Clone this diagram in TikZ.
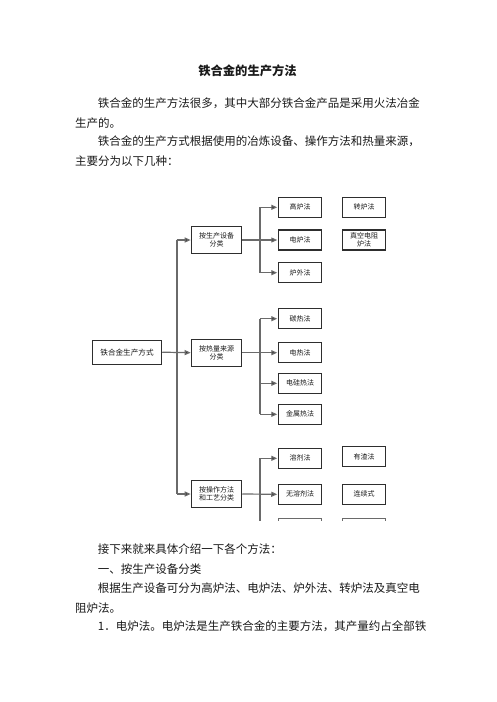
\documentclass[tikz,border=0pt]{standalone}
\usepackage{fontspec}
\newfontfamily\cjk{Noto Sans CJK SC}
\usetikzlibrary{arrows.meta}
\definecolor{txt}{HTML}{1A1A1A}
\definecolor{boxline}{HTML}{2E2E2E}
\definecolor{conn}{HTML}{6A6A6A}
\tikzset{
  body/.style={anchor=west, inner sep=0pt, text=txt, font=\cjk\fontsize{11.5}{13}\selectfont},
  ttl/.style={inner sep=0pt, text=txt, font=\cjk\bfseries\fontsize{12.3}{14}\selectfont},
  box/.style={draw=boxline, line width=1.1pt, fill=white, inner sep=0pt, align=center,
    text=txt, font=\cjk\fontsize{7}{8.6}\selectfont},
  leaf/.style={box, minimum width=43.4pt, minimum height=20pt},
  midbox/.style={box, minimum width=50pt, minimum height=26.7pt},
  rootbox/.style={box, minimum width=69.4pt, minimum height=23.7pt, font=\cjk\fontsize{7.6}{9}\selectfont},
  trunkline/.style={draw=conn, line width=1.6pt},
  arr/.style={draw=conn, line width=1.2pt, -{Triangle[length=6pt,width=5pt,fill=boxline]}, shorten >=0.5pt},
}
\begin{document}
\begin{tikzpicture}[x=1pt,y=-1pt]
\useasboundingbox[fill=white] (0,0) rectangle (496,702);
% text
\node[ttl] (title) at (247.5,71) {铁合金的生产方法};
\node[body] (p1) at (97.7,103.3) {铁合金的生产方法很多，其中大部分铁合金产品是采用火法冶金};
\node[body] (p2) at (75,122.7) {生产的。};
\node[body] (p3) at (97.7,141.7) {铁合金的生产方式根据使用的冶炼设备、操作方法和热量来源，};
\node[body] (p4) at (75,161) {主要分为以下几种：};
\node[body] (q1) at (97.7,549.3) {接下来就来具体介绍一下各个方法：};
\node[body] (q2) at (97.7,569.3) {一、按生产设备分类};
\node[body] (q3) at (97.7,588.3) {根据生产设备可分为高炉法、电炉法、炉外法、转炉法及真空电};
\node[body] (q4) at (75,607.7) {阻炉法。};
\node[body] (q5) at (97.7,626.7) {1．电炉法。电炉法是生产铁合金的主要方法，其产量约占全部铁};
% diagram
\begin{scope}
\clip (80,185) rectangle (400,520);
\node[rootbox] (root) at (127,352.2) {铁合金生产方式};
\node[midbox] (m1) at (216.7,240) {按生产设备\\分类};
\node[midbox] (m2) at (216.7,352.7) {按热量来源\\分类};
\node[midbox] (m3) at (216.7,494) {按操作方法\\和工艺分类};
% group 1
\node[leaf] (a1) at (300,207.3) {高炉法};
\node[leaf] (a2) at (300,240) {电炉法};
\node[leaf] (a3) at (300,272.7) {炉外法};
\node[leaf] (a4) at (364,207.3) {转炉法};
\node[leaf, font=\cjk\fontsize{7}{7.6}\selectfont] (a5) at (364,240) {真空电阻\\炉法};
% group 2
\node[leaf] (b1) at (300,318.7) {碳热法};
\node[leaf] (b2) at (300,352.7) {电热法};
\node[leaf] (b3) at (300,383.3) {电硅热法};
\node[leaf] (b4) at (300,414.3) {金属热法};
% group 3
\node[leaf] (c1) at (300,458.3) {溶剂法};
\node[leaf] (c2) at (300,494.3) {无溶剂法};
\node[leaf] (c4) at (364,456.7) {有渣法};
\node[leaf] (c5) at (364,494.3) {连续式};
\node[leaf, draw=conn] (c3) at (300,528.8) {};
\node[leaf, draw=conn] (c6) at (364,528.8) {};
% main trunk
\coordinate (ta) at (176.7,240);
\coordinate (tb) at (176.7,494);
\draw[trunkline] (ta) -- (tb);
\draw[arr] (root.east) -- (m2.west);
\draw[arr] (ta) -- (m1.west);
\draw[arr] (tb) -- (m3.west);
% group 1 connectors
\coordinate (ga) at (260,207.3);
\coordinate (gb) at (260,272.7);
\draw[trunkline] (ga) -- (gb);
\draw[arr] (m1.east) -- (a2.west);
\draw[arr] (ga) -- (a1.west);
\draw[arr] (gb) -- (a3.west);
% group 2 connectors
\coordinate (ha) at (260,318.7);
\coordinate (hb) at (260,414.3);
\coordinate (hc) at (260,383.3);
\draw[trunkline] (ha) -- (hb);
\draw[arr] (m2.east) -- (b2.west);
\draw[arr] (ha) -- (b1.west);
\draw[arr] (hc) -- (b3.west);
\draw[arr] (hb) -- (b4.west);
% group 3 connectors
\coordinate (ka) at (260,458.3);
\coordinate (kb) at (260,530);
\draw[trunkline] (ka) -- (kb);
\draw[arr] (m3.east) -- (c2.west);
\draw[arr] (ka) -- (c1.west);
\end{scope}
\end{tikzpicture}
\end{document}
